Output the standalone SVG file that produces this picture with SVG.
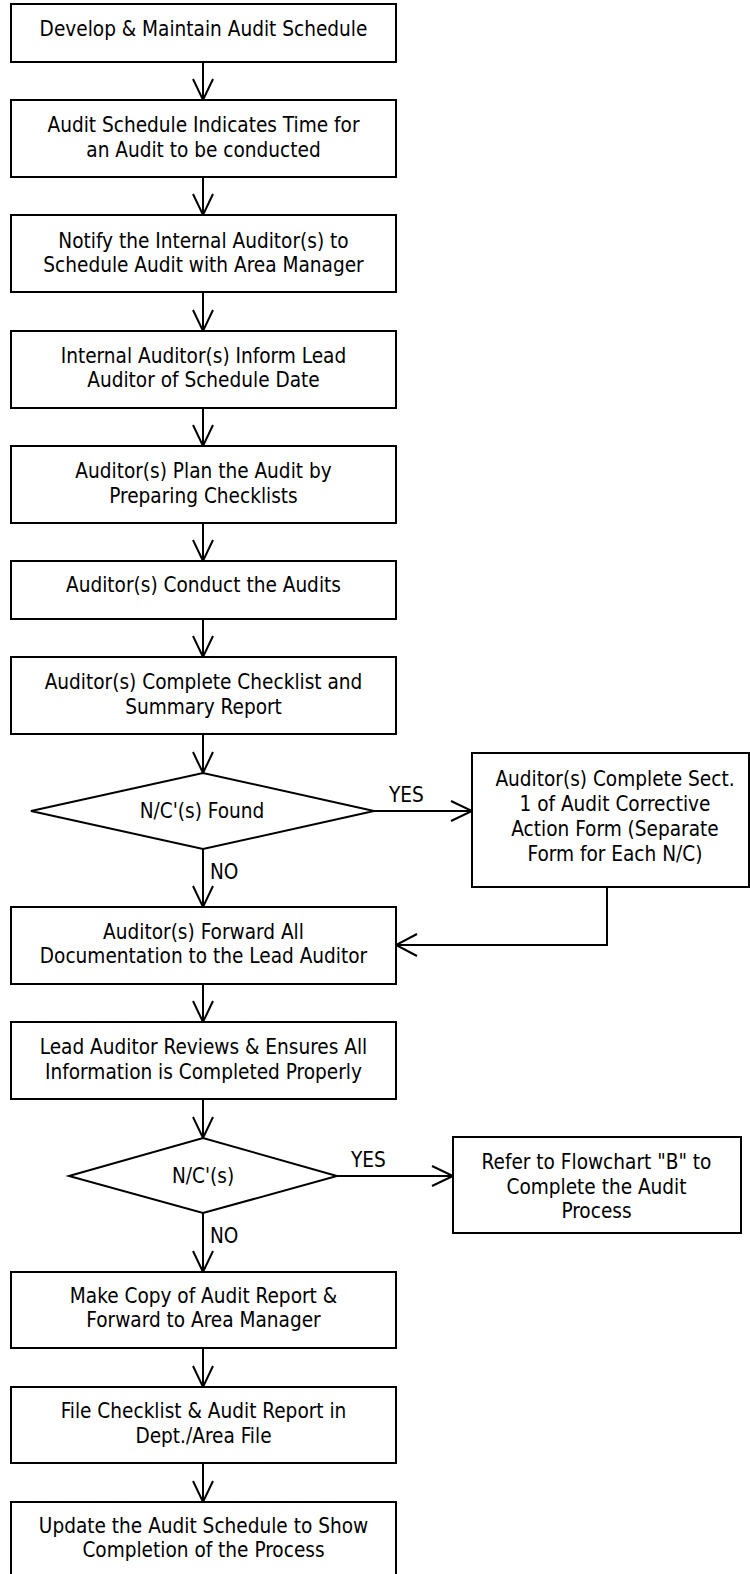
<svg xmlns="http://www.w3.org/2000/svg" width="750" height="1574" viewBox="0 0 750 1574">
<style>
.box{fill:#fff;stroke:#000;stroke-width:2}
.t{font-family:"DejaVu Sans Condensed","DejaVu Sans",sans-serif;font-size:20.6px;fill:#000;text-anchor:middle}
.lbl{font-family:"DejaVu Sans Condensed","DejaVu Sans",sans-serif;font-size:20.6px;fill:#000}
.ln{fill:none;stroke:#000;stroke-width:2}
</style>
<rect width="750" height="1574" fill="#fff"/>
<g id="connectors" class="ln">
<path d="M203,62V100M193,79L203,100L213,79"/>
<path d="M203,177V215M193,194L203,215L213,194"/>
<path d="M203,292V331M193,310L203,331L213,310"/>
<path d="M203,408V446M193,425L203,446L213,425"/>
<path d="M203,523V561M193,540L203,561L213,540"/>
<path d="M203,619V657M193,636L203,657L213,636"/>
<path d="M203,734V773M193,752L203,773L213,752"/>
<path d="M203,849V907M193,886L203,907L213,886"/>
<path d="M374,811H472M451,801L472,811L451,821"/>
<path d="M607,887V945H396M417,934L396,945L417,956"/>
<path d="M203,984V1022M193,1001L203,1022L213,1001"/>
<path d="M203,1099V1138M193,1117L203,1138L213,1117"/>
<path d="M337,1176H453M432,1166L453,1176L432,1186"/>
<path d="M203,1213V1272M193,1251L203,1272L213,1251"/>
<path d="M203,1348V1387M193,1366L203,1387L213,1366"/>
<path d="M203,1463V1502M193,1481L203,1502L213,1481"/>
</g>
<g id="labels">
<text class="lbl" x="210" y="879">NO</text>
<text class="lbl" x="389" y="802">YES</text>
<text class="lbl" x="351" y="1167">YES</text>
<text class="lbl" x="210" y="1243">NO</text>
</g>
<g id="n1"><rect class="box" x="11" y="4" width="385" height="58"/><text class="t" x="203.5" y="36">Develop &amp; Maintain Audit Schedule</text></g>
<g id="n2"><rect class="box" x="11" y="100" width="385" height="77"/><text class="t" x="203.5" y="132">Audit Schedule Indicates Time for</text><text class="t" x="203.5" y="157">an Audit to be conducted</text></g>
<g id="n3"><rect class="box" x="11" y="215" width="385" height="77"/><text class="t" x="203.5" y="248">Notify the Internal Auditor(s) to</text><text class="t" x="203.5" y="272">Schedule Audit with Area Manager</text></g>
<g id="n4"><rect class="box" x="11" y="331" width="385" height="77"/><text class="t" x="203.5" y="363">Internal Auditor(s) Inform Lead</text><text class="t" x="203.5" y="387">Auditor of Schedule Date</text></g>
<g id="n5"><rect class="box" x="11" y="446" width="385" height="77"/><text class="t" x="203.5" y="478">Auditor(s) Plan the Audit by</text><text class="t" x="203.5" y="503">Preparing Checklists</text></g>
<g id="n6"><rect class="box" x="11" y="561" width="385" height="58"/><text class="t" x="203.5" y="592">Auditor(s) Conduct the Audits</text></g>
<g id="n7"><rect class="box" x="11" y="657" width="385" height="77"/><text class="t" x="203.5" y="689">Auditor(s) Complete Checklist and</text><text class="t" x="203.5" y="714">Summary Report</text></g>
<g id="d1"><polygon class="box" points="31,811 203,773 374,811 203,849"/><text class="t" x="202" y="818">N/C'(s) Found</text></g>
<g id="n8"><rect class="box" x="472" y="753" width="277" height="134"/><text class="t" x="615" y="786">Auditor(s) Complete Sect.</text><text class="t" x="615" y="811">1 of Audit Corrective</text><text class="t" x="615" y="836">Action Form (Separate</text><text class="t" x="615" y="861">Form for Each N/C)</text></g>
<g id="n9"><rect class="box" x="11" y="907" width="385" height="77"/><text class="t" x="203.5" y="939">Auditor(s) Forward All</text><text class="t" x="203.5" y="963">Documentation to the Lead Auditor</text></g>
<g id="n10"><rect class="box" x="11" y="1022" width="385" height="77"/><text class="t" x="203.5" y="1054">Lead Auditor Reviews &amp; Ensures All</text><text class="t" x="203.5" y="1079">Information is Completed Properly</text></g>
<g id="d2"><polygon class="box" points="69,1176 203,1138 337,1176 203,1213"/><text class="t" x="203" y="1183">N/C'(s)</text></g>
<g id="n11"><rect class="box" x="453" y="1137" width="288" height="96"/><text class="t" x="596.5" y="1169">Refer to Flowchart "B" to</text><text class="t" x="596.5" y="1194">Complete the Audit</text><text class="t" x="596.5" y="1218">Process</text></g>
<g id="n12"><rect class="box" x="11" y="1272" width="385" height="76"/><text class="t" x="203.5" y="1303">Make Copy of Audit Report &amp;</text><text class="t" x="203.5" y="1327">Forward to Area Manager</text></g>
<g id="n13"><rect class="box" x="11" y="1387" width="385" height="76"/><text class="t" x="203.5" y="1418">File Checklist &amp; Audit Report in</text><text class="t" x="203.5" y="1443">Dept./Area File</text></g>
<g id="n14"><rect class="box" x="11" y="1502" width="385" height="77"/><text class="t" x="203.5" y="1533">Update the Audit Schedule to Show</text><text class="t" x="203.5" y="1557">Completion of the Process</text></g>
</svg>
